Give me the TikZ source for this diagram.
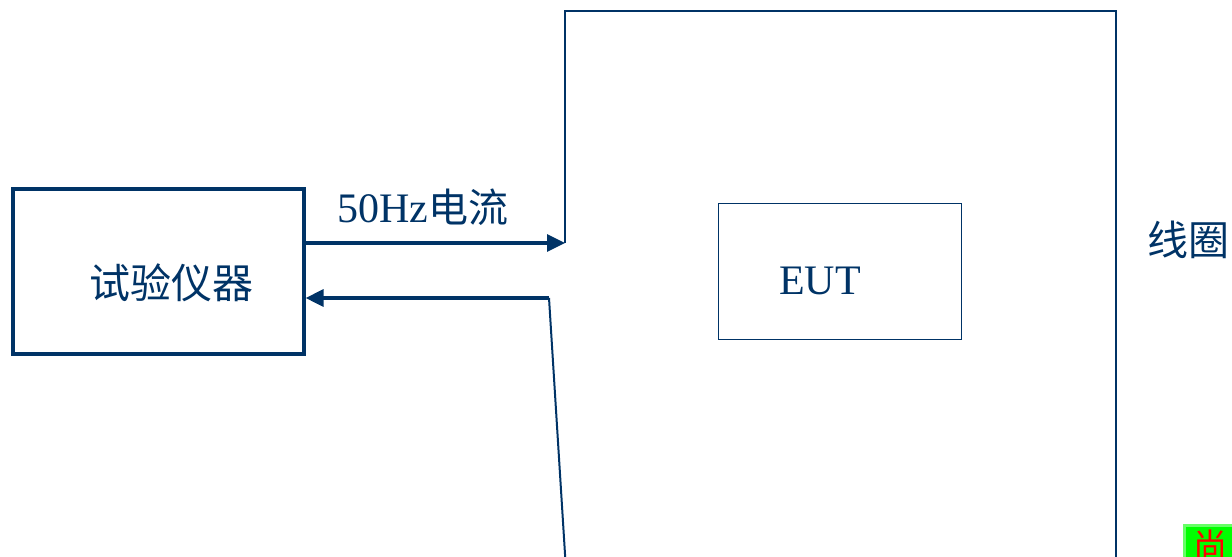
\documentclass[tikz,border=0pt]{standalone}
\usepackage{fontspec}
\setmainfont{Liberation Serif}
\newfontfamily\cjk{Noto Sans CJK SC}
\usetikzlibrary{arrows.meta}
\definecolor{navy}{HTML}{003366}
\definecolor{lgreen}{HTML}{66FF66}
\tikzset{
  big/.style={font=\fontsize{42}{48}\selectfont, text=navy, inner sep=0pt},
  instbox/.style={draw=navy, line width=3.2pt, minimum width=291pt, minimum height=165pt, inner sep=0pt},
  eutbox/.style={draw=navy, line width=1.6pt, minimum width=243pt, minimum height=136pt, inner sep=0pt},
  arrowline/.style={draw=navy, line width=3.2pt, -{Triangle[length=18pt,width=17pt]}},
  coil/.style={draw=navy, line width=2pt},
}
\begin{document}
\begin{tikzpicture}[x=1pt,y=-1pt]
\useasboundingbox (0,0) rectangle (1232,557);
\clip (0,0) rectangle (1232,557);
\node[instbox] (inst) at (158.5,271.5) {};
\node[big] (insttxt) at (171,283) {\cjk\fontsize{41}{48}\selectfont 试验仪器};
\node[eutbox] (eut) at (840,271.5) {};
\node[big] (euttxt) at (820,281) {EUT};
\coordinate (cin) at (565,243);
\coordinate (ctl) at (565,11);
\coordinate (ctr) at (1116,11);
\coordinate (cbr) at (1116,570);
\coordinate (cout) at (549,298);
\coordinate (cbl) at (566,570);
\draw[coil, line join=miter] (cin) -- (ctl) -- (ctr) -- (cbr);
\draw[coil] (cout) -- (cbl);
\draw[arrowline] (inst.east |- cin) -- (cin);
\draw[arrowline, line join=miter] (cout) -- (cout -| inst.east);
\node[big, anchor=south] (lbl) at (423,226) {50Hz{\cjk\fontsize{40}{48}\selectfont 电流}};
\node[big, anchor=west] (coiltxt) at (1147,240) {\cjk\fontsize{41}{48}\selectfont 线圈};
\node[draw=lgreen, line width=3pt, fill=green, anchor=north west, minimum width=80pt, minimum height=60pt] (gbox) at (1182.5,523.5) {};
\node[text=red, font=\cjk\fontsize{34}{40}\selectfont, anchor=north west, inner sep=0pt] (gtxt) at (1193,530) {尚};
\end{tikzpicture}
\end{document}
